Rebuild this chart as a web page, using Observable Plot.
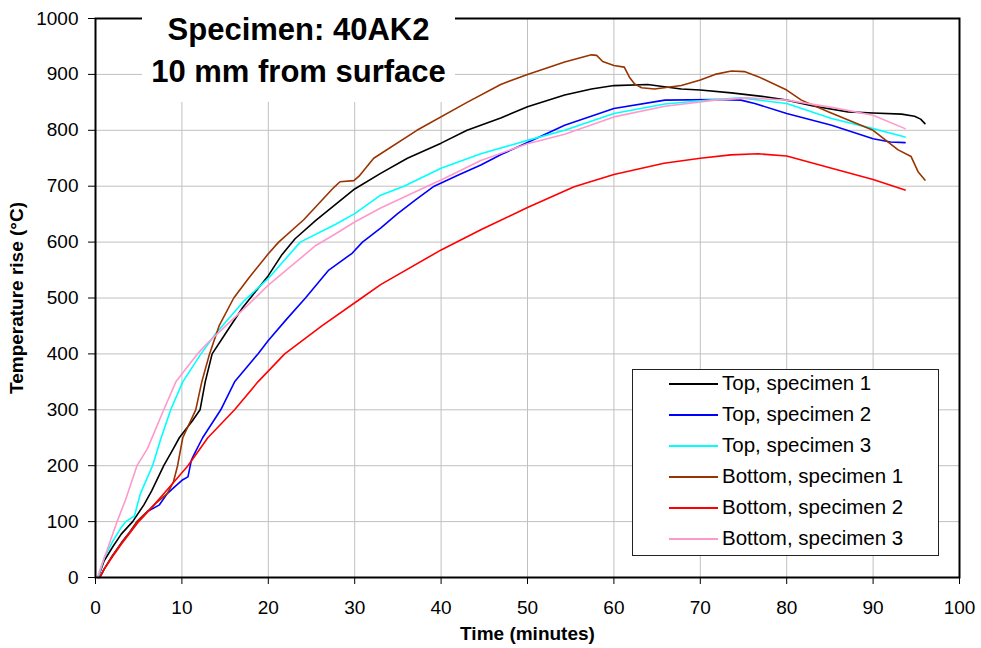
<!DOCTYPE html>
<html>
<head>
<meta charset="utf-8">
<script src="https://cdn.jsdelivr.net/npm/d3@7"></script>
<script src="https://cdn.jsdelivr.net/npm/@observablehq/plot@0.6"></script>
<style>
  html, body { margin: 0; padding: 0; background: #fff; }
  #wrap { position: relative; width: 981px; height: 648px; font-family: "Liberation Sans", Arial, sans-serif; }
  #title { position: absolute; left: 142px; top: 0px; width: 313px; height: 102px; background: #fff;
           box-sizing: border-box; padding-top: 9px; text-align: center; font-weight: bold; font-size: 31px; line-height: 42px; color: #000; }
  #legend { position: absolute; left: 632px; top: 369px; width: 307px; height: 187px; background: #fff;
            box-sizing: border-box; border: 1.5px solid #222; }
  .row { position: absolute; left: 0; height: 31px; width: 100%; }
  .sw { position: absolute; left: 36px; width: 49px; top: 13px; height: 0; border-top: 2px solid #000; }
  .lab { position: absolute; left: 89px; top: 1px; font-size: 20.5px; line-height: 24px; color: #000; white-space: nowrap; }
  g[aria-label="x-axis label"] text, g[aria-label="y-axis label"] text { font-weight: bold; }
</style>
</head>
<body>
<div id="wrap">
  <div id="chart"></div>
  <div id="title">Specimen: 40AK2<br>10 mm from surface</div>
  <div id="legend"></div>
</div>
<script>
// ---- Data ----
const seriesNames = ["Top, specimen 1", "Top, specimen 2", "Top, specimen 3",
                     "Bottom, specimen 1", "Bottom, specimen 2", "Bottom, specimen 3"];
const seriesColors = ["#000000", "#0000ff", "#00ffff", "#993300", "#ff0000", "#ff99cc"];

const xTicks = [0, 10, 20, 30, 40, 50, 60, 70, 80, 90, 100];
const yTicks = [0, 100, 200, 300, 400, 500, 600, 700, 800, 900, 1000];

// Top, specimen 1
const top1Time = [0.3, 1, 2, 3, 4.3, 5.6, 6.5, 7.9, 9, 9.7, 11.2, 12.1, 12.7, 13.5, 15.2, 17, 20, 21.6, 23.1, 25.5, 30, 33, 36.1, 40, 43, 46.9, 50, 54.3, 57.4, 60, 63.9, 67.8, 70, 73.6, 77.5, 80, 83.2, 87.1, 90, 93.3, 94.8, 95.5, 96];
const top1Temp = [0, 30, 55, 78, 100, 130, 155, 200, 230, 250, 280, 300, 350, 400, 440, 482, 540, 578, 606, 639, 695, 723, 750, 777, 800, 822, 842, 863, 874, 880, 882, 874, 872, 867, 860, 854, 843, 833, 831, 829, 825, 820, 812];

// Top, specimen 2
const top2Time = [0.5, 1, 2, 3, 4, 4.8, 6, 7.4, 8.3, 9, 10.1, 10.7, 11.1, 11.4, 12.4, 14.5, 16.1, 18.8, 20, 22, 24.3, 27, 29.7, 30.9, 33, 34.9, 37, 39.2, 42, 44.6, 47, 50, 54.3, 60, 65.9, 71.7, 74.7, 76.3, 80, 85.2, 90, 92, 93.7];
const top2Temp = [0, 15, 40, 62, 82, 100, 118, 130, 150, 160, 175, 180, 210, 220, 250, 300, 350, 400, 424, 460, 500, 550, 580, 600, 625, 650, 675, 700, 720, 738, 757, 778, 809, 839, 854, 855, 854, 848, 830, 809, 785, 779, 778];

// Top, specimen 3
const top3Time = [0.3, 1, 2, 3, 3.5, 4.5, 5.2, 6.6, 7.5, 8.7, 10.1, 12.2, 13.9, 17.2, 20, 23.7, 27.8, 30, 33, 35.7, 40, 44.6, 50, 54.3, 60, 65.9, 71.7, 74.7, 80, 85.2, 90, 93.7];
const top3Temp = [0, 35, 65, 90, 100, 110, 150, 200, 245, 300, 350, 400, 436, 495, 535, 600, 632, 651, 684, 700, 732, 758, 782, 800, 830, 847, 855, 858, 848, 821, 803, 788];

// Bottom, specimen 1
const bot1Time = [0.5, 1, 2, 3, 4, 4.8, 6, 7, 8.3, 9, 9.5, 10.1, 11.6, 12.3, 13.2, 14.3, 16, 17.7, 20, 21.2, 24.1, 27.6, 28.3, 29.9, 30.5, 32.2, 37.2, 43, 46.9, 50, 54.3, 57.4, 58, 58.7, 60, 61.2, 61.8, 62.4, 63.2, 64.7, 67.8, 70, 71.7, 73.6, 75.1, 76.7, 80, 81.7, 84.8, 90, 92.9, 94.4, 95.2, 96];
const bot1Temp = [0, 15, 40, 62, 82, 100, 118, 133, 150, 170, 200, 250, 300, 350, 400, 450, 500, 535, 579, 600, 640, 698, 708, 710, 718, 750, 800, 850, 882, 900, 922, 935, 934, 923, 916, 913, 895, 883, 876, 874, 880, 890, 900, 906, 905, 896, 872, 854, 833, 800, 765, 753, 726, 711];

// Bottom, specimen 2
const bot2Time = [0.5, 1, 2, 3, 4, 5, 6.5, 7.9, 9.3, 10.7, 13, 16.1, 18.8, 21.9, 26.2, 30.8, 33, 40, 44.6, 50, 55.4, 60, 65.8, 70, 73.5, 76.7, 80, 85.2, 90, 93.7];
const bot2Temp = [0, 15, 38, 60, 80, 100, 125, 150, 175, 200, 250, 300, 350, 400, 450, 500, 524, 586, 622, 662, 699, 721, 741, 750, 756, 758, 754, 732, 712, 693];

// Bottom, specimen 3
const bot3Time = [0.2, 1.2, 2.5, 3.5, 4.8, 6, 7.9, 9.3, 11.8, 13, 13.9, 17.2, 20, 25.5, 27.8, 30, 33, 38.4, 40, 44.6, 50, 54.3, 60, 65.9, 71.7, 75.5, 80, 85.2, 90, 93.7];
const bot3Temp = [0, 43, 100, 140, 200, 230, 300, 350, 400, 420, 433, 481, 523, 594, 615, 636, 661, 700, 711, 746, 776, 793, 824, 843, 854, 858, 854, 841, 827, 803];

const seriesTimes = [top1Time, top2Time, top3Time, bot1Time, bot2Time, bot3Time];
const seriesTemps = [top1Temp, top2Temp, top3Temp, bot1Temp, bot2Temp, bot3Temp];

// ---- Build table for Plot ----
const rows = seriesNames.flatMap((name, i) =>
  seriesTimes[i].map((t, j) => ({series: name, t, v: seriesTemps[i][j]})));

const chart = Plot.plot({
  width: 981,
  height: 648,
  marginLeft: 95,
  marginRight: 22,
  marginTop: 18,
  marginBottom: 71,
  style: {fontFamily: "'Liberation Sans', Arial, sans-serif", fontSize: "19px", color: "#000", background: "#fff"},
  x: {domain: [0, 100]},
  y: {domain: [0, 1000]},
  color: {domain: seriesNames, range: seriesColors},
  marks: [
    Plot.gridX(xTicks, {stroke: "#c0c0c0", strokeOpacity: 1, strokeWidth: 1}),
    Plot.gridY(yTicks, {stroke: "#c0c0c0", strokeOpacity: 1, strokeWidth: 1}),
    Plot.axisX(xTicks, {tickSize: 7, tickPadding: 16, tickFormat: d => String(d), label: "Time (minutes)", labelAnchor: "center", labelArrow: "none", labelOffset: 62, stroke: "#000"}),
    Plot.axisY(yTicks, {tickSize: 7, tickPadding: 10, tickFormat: d => String(d), label: "Temperature rise (°C)", labelAnchor: "center", labelArrow: "none", labelOffset: 86, stroke: "#000"}),
    Plot.line(rows, {x: "t", y: "v", z: "series", stroke: "series", strokeWidth: 1.6, curve: "linear"}),
    Plot.frame({stroke: "#000", strokeWidth: 2})
  ]
});
document.getElementById("chart").appendChild(chart);

// ---- Legend (HTML) ----
const legend = document.getElementById("legend");
seriesNames.forEach((name, i) => {
  const row = document.createElement("div");
  row.className = "row";
  row.style.top = (i * 31) + "px";
  const sw = document.createElement("div");
  sw.className = "sw";
  sw.style.borderTopColor = seriesColors[i];
  const lab = document.createElement("div");
  lab.className = "lab";
  lab.textContent = name;
  row.appendChild(sw);
  row.appendChild(lab);
  legend.appendChild(row);
});
</script>
</body>
</html>
